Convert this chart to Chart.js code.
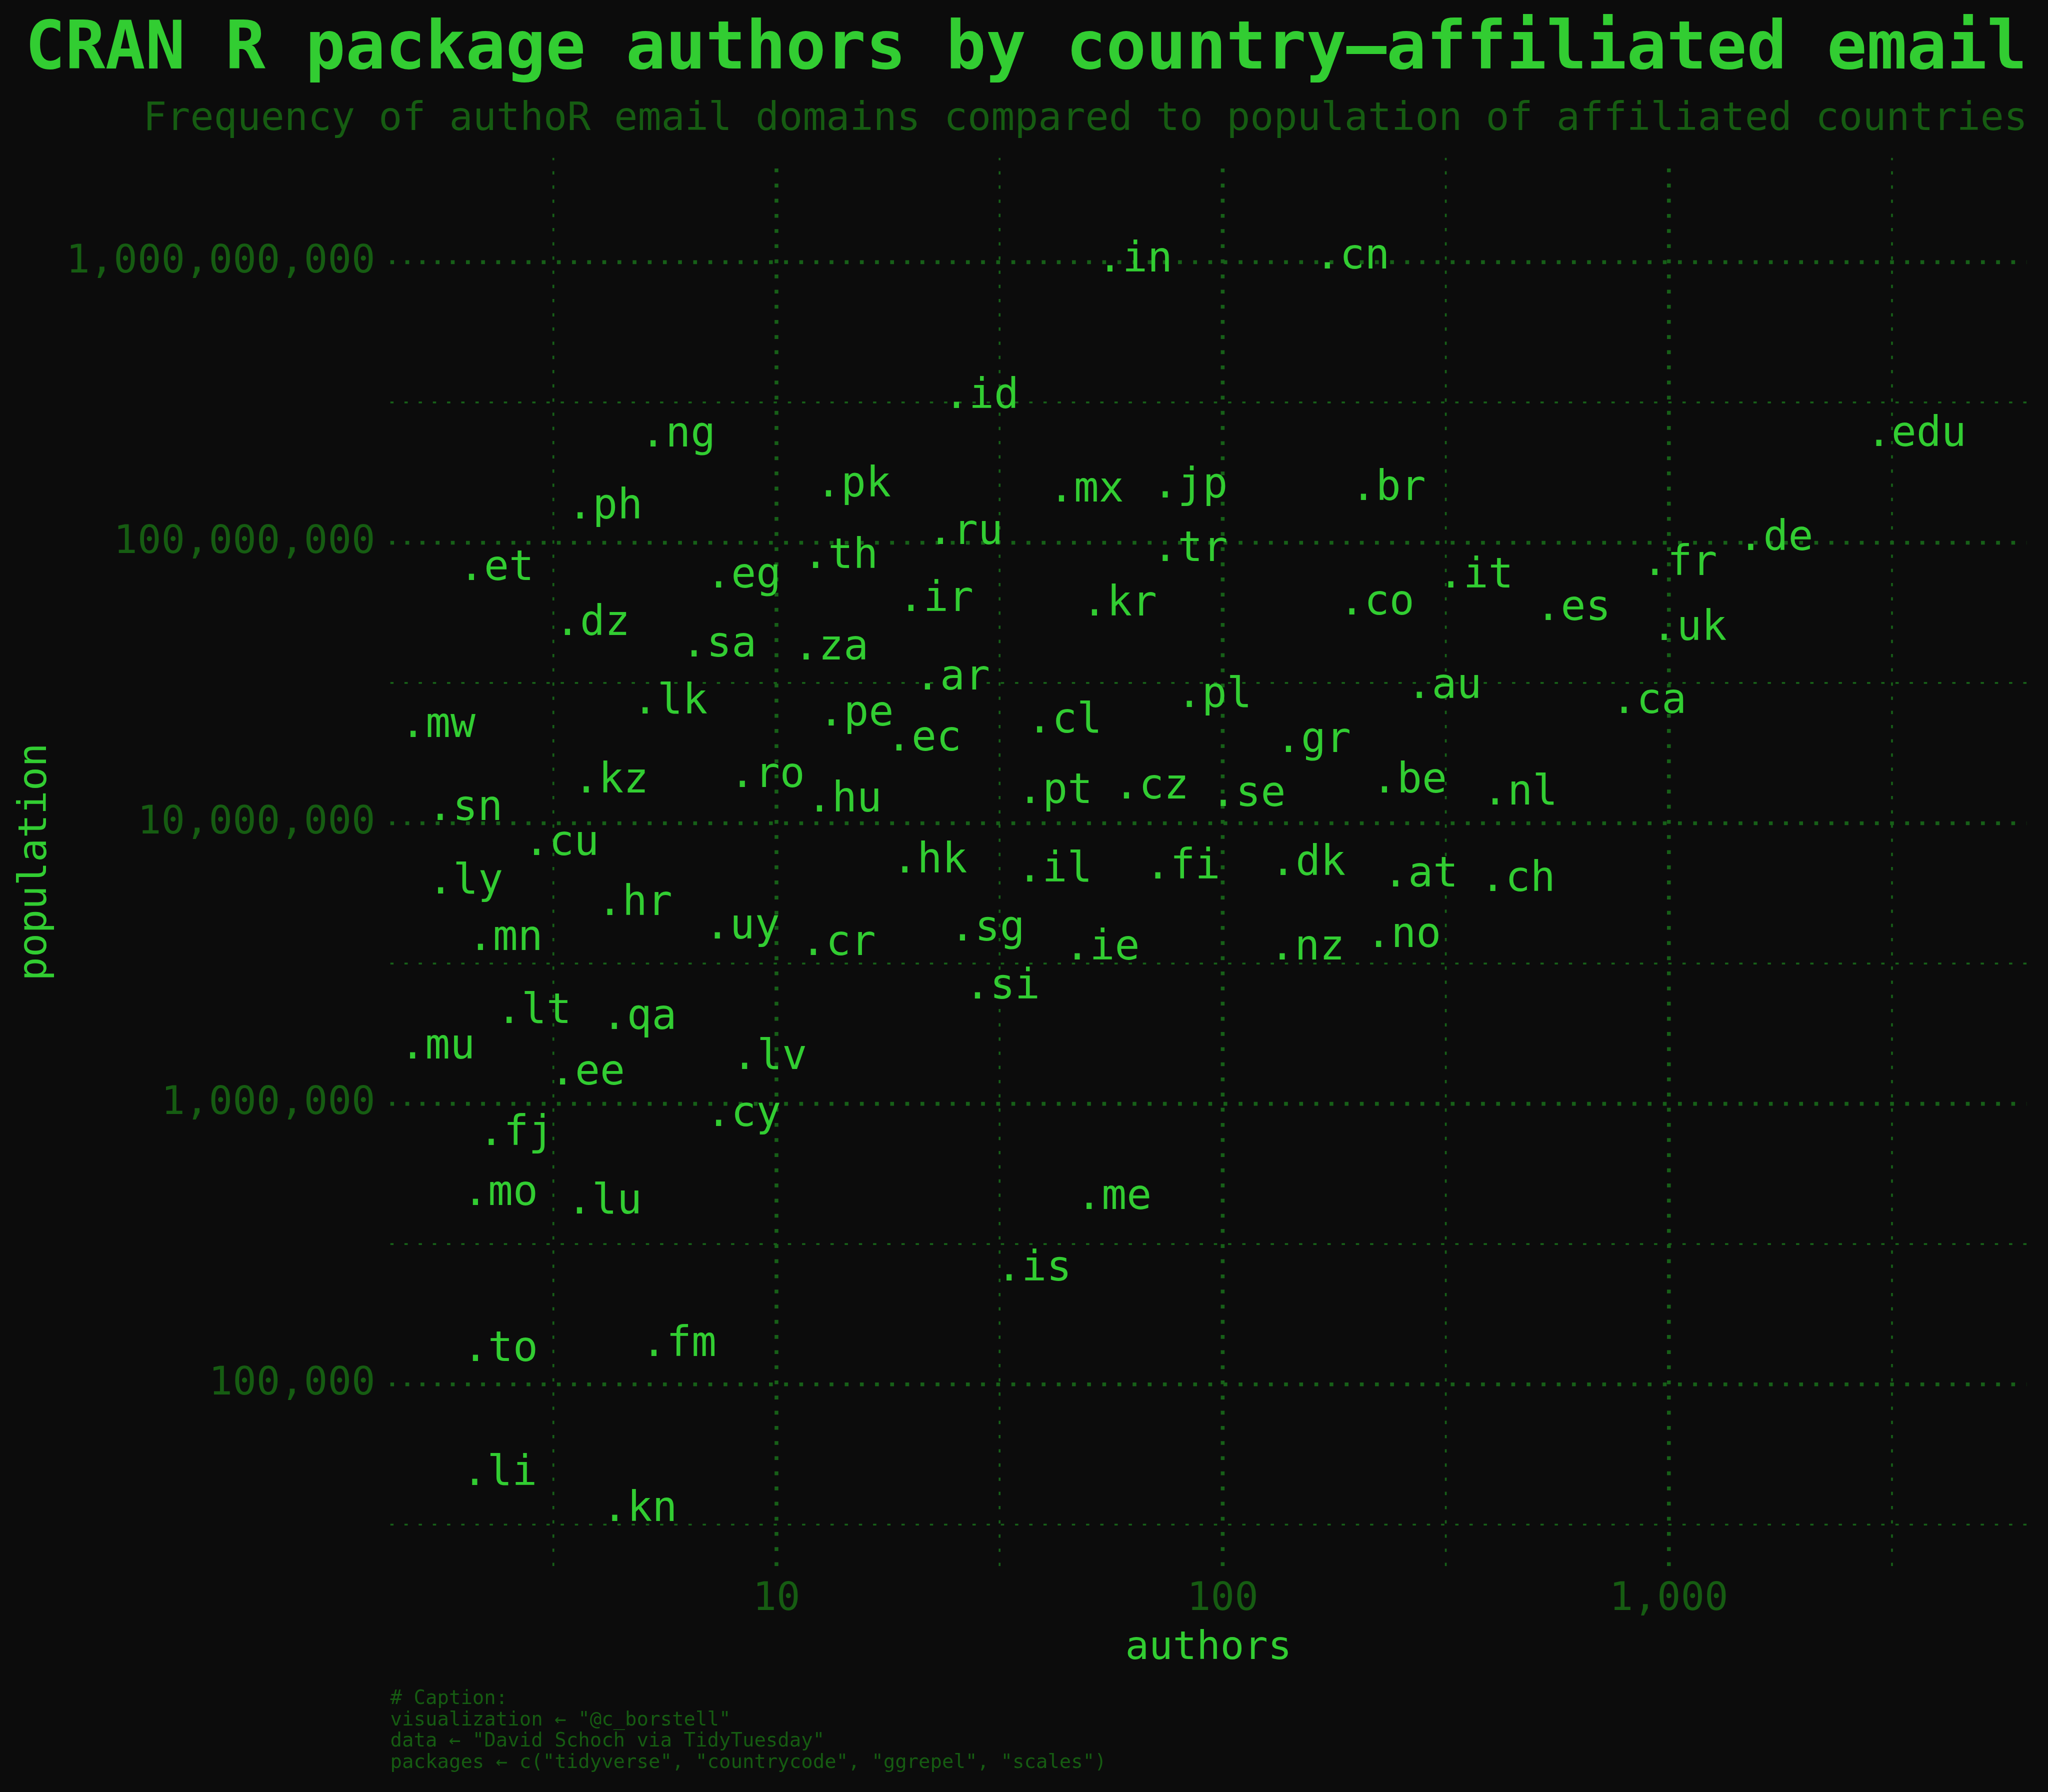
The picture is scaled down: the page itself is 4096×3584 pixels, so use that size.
<!DOCTYPE html>
<html>
<head>
<meta charset="utf-8">
<script src="https://cdn.jsdelivr.net/npm/chart.js@4.4.1/dist/chart.umd.min.js"></script>
<style>
html,body{margin:0;padding:0;background:#0c0c0c;overflow:hidden}
canvas{display:block}
</style>
</head>
<body>
<canvas id="c" width="4096" height="3584" style="width:4096px;height:3584px"></canvas>
<script>
// ---------- data ----------
const domains = ['.in','.cn','.id','.ng','.edu','.pk','.mx','.jp','.br','.ph','.ru','.de','.th','.tr','.fr','.et','.eg','.it','.ir','.kr','.co','.es','.dz','.uk','.sa','.za','.ar','.au','.pl','.lk','.ca','.pe','.mw','.cl','.ec','.gr','.ro','.kz','.be','.pt','.cz','.hu','.se','.nl','.sn','.cu','.hk','.dk','.il','.fi','.at','.ch','.ly','.hr','.uy','.sg','.mn','.cr','.ie','.nz','.no','.si','.lt','.qa','.mu','.lv','.ee','.cy','.fj','.mo','.lu','.me','.is','.to','.fm','.li','.kn'];
const authors = [63.6,195.2,28.8,6.02,3586,14.88,49.5,84.6,235.2,4.13,26.52,1736,13.92,84.6,1058,2.358,8.44,369.4,22.78,58.7,221.6,610.3,3.869,1111,7.439,13.26,24.80,313.8,95.8,5.775,902.8,15.09,1.744,44.22,21.41,159.8,9.540,4.261,262.2,42.12,69.27,14.20,114.1,464.1,2.007,3.300,22.06,155.4,42.03,81.4,277.7,458.8,2.011,4.815,8.386,29.7,2.469,13.76,53.7,154.7,254.4,32.1,2.862,4.927,1.740,9.650,3.772,8.44,2.610,2.407,4.117,57.1,37.8,2.407,6.047,2.397,4.938];
const population = [1.015e9,1.042e9,3.311e8,2.415e8,2.432e8,1.607e8,1.542e8,1.589e8,1.560e8,1.340e8,1.086e8,1.035e8,8.913e7,9.441e7,8.433e7,8.091e7,7.586e7,7.586e7,6.266e7,6.039e7,6.081e7,5.808e7,5.140e7,4.932e7,4.315e7,4.207e7,3.289e7,3.069e7,2.851e7,2.698e7,2.716e7,2.449e7,2.228e7,2.307e7,1.991e7,1.968e7,1.479e7,1.413e7,1.413e7,1.294e7,1.346e7,1.211e7,1.262e7,1.279e7,1.125e7,8.453e6,7.328e6,7.178e6,6.792e6,6.966e6,6.531e6,6.295e6,6.166e6,5.164e6,4.266e6,4.188e6,3.882e6,3.715e6,3.589e6,3.589e6,3.981e6,2.600e6,2.133e6,2.028e6,1.592e6,1.459e6,1.285e6,9.141e5,7.834e5,4.786e5,4.467e5,4.624e5,2.570e5,1.330e5,1.387e5,4.797e4,3.573e4];

const xMajorTicks = [10, 100, 1000];
const xMinorTicks = [3.1623, 31.623, 316.23, 3162.3];
const yMajorTicks = [1e5, 1e6, 1e7, 1e8, 1e9];
const yMinorTicks = [3.1623e4, 3.1623e5, 3.1623e6, 3.1623e7, 3.1623e8];
const xRange = [1.3627, 6339];
const yRange = [22497, 2.3553e9];

const titleText = 'CRAN R package authors by country\u2013affiliated email';
const subtitleText = 'Frequency of authoR email domains compared to population of affiliated countries';
const xTitle = 'authors';
const yTitle = 'population';
const captionLines = [
  '# Caption:',
  'visualization \u2190 "@c_borstell"',
  'data \u2190 "David Schoch via TidyTuesday"',
  'packages \u2190 c("tidyverse", "countrycode", "ggrepel", "scales")'
];

// ---------- style ----------
const FONT = '"DejaVu Sans Mono", "Liberation Mono", monospace';
const BG = '#0c0c0c';
const BRIGHT = '#32cd32';
const DARK = '#165c12';
const GRID = '#176018';
const LABEL_SIZE = 83;

const bgPlugin = {
  id: 'bg',
  beforeDraw(chart) {
    const ctx = chart.ctx;
    ctx.save();
    ctx.fillStyle = BG;
    ctx.fillRect(0, 0, chart.width, chart.height);
    ctx.restore();
  }
};

const gridPlugin = {
  id: 'dottedGrid',
  beforeDatasetsDraw(chart) {
    const {ctx, chartArea: a, scales: {x, y}} = chart;
    ctx.save();
    ctx.beginPath();
    ctx.rect(a.left, a.top, a.right - a.left, a.bottom - a.top);
    ctx.clip();
    ctx.strokeStyle = GRID;
    ctx.lineCap = 'butt';
    const drawSet = (vals, isX, lw, dash) => {
      ctx.lineWidth = lw;
      ctx.setLineDash(dash);
      ctx.lineDashOffset = 0;
      vals.forEach(v => {
        ctx.beginPath();
        if (isX) {
          const px = x.getPixelForValue(v);
          ctx.moveTo(px, a.bottom);
          ctx.lineTo(px, a.top);
        } else {
          const py = y.getPixelForValue(v);
          ctx.moveTo(a.left, py);
          ctx.lineTo(a.right, py);
        }
        ctx.stroke();
      });
    };
    drawSet(yMinorTicks, false, 3.7, [6.6, 21.8]);
    drawSet(xMinorTicks, true, 3.7, [6.6, 21.8]);
    drawSet(yMajorTicks, false, 7.6, [7.6, 22.7]);
    drawSet(xMajorTicks, true, 7.6, [7.6, 22.7]);
    ctx.restore();
  }
};

const labelPlugin = {
  id: 'textLabels',
  afterDatasetsDraw(chart) {
    const {ctx} = chart;
    const meta = chart.getDatasetMeta(0);
    ctx.save();
    ctx.font = LABEL_SIZE + 'px ' + FONT;
    ctx.fillStyle = BRIGHT;
    ctx.textAlign = 'center';
    ctx.textBaseline = 'alphabetic';
    meta.data.forEach((pt, i) => {
      ctx.fillText(domains[i], pt.x, pt.y + 0.273 * LABEL_SIZE);
    });
    ctx.restore();
  }
};

const textPlugin = {
  id: 'titles',
  afterDraw(chart) {
    const ctx = chart.ctx;
    ctx.save();
    ctx.textBaseline = 'alphabetic';
    ctx.fillStyle = BRIGHT;
    ctx.textAlign = 'right';
    ctx.font = 'bold 133px ' + FONT;
    ctx.fillText(titleText, 4054, 136.5);
    ctx.fillStyle = DARK;
    ctx.font = '78.25px ' + FONT;
    ctx.fillText(subtitleText, 4055, 260);
    ctx.textAlign = 'left';
    ctx.font = '39px ' + FONT;
    const base = [3408.2, 3451.1, 3493.3, 3535.6];
    captionLines.forEach((l, i) => ctx.fillText(l, 780.5, base[i]));
    ctx.restore();
  }
};

const fmt = v => Number(v).toLocaleString('en-US');

new Chart(document.getElementById('c'), {
  type: 'scatter',
  data: {
    datasets: [{
      label: 'domains',
      data: authors.map((a, i) => ({x: a, y: population[i]})),
      pointRadius: 0,
      pointHoverRadius: 0,
      showLine: false
    }]
  },
  options: {
    responsive: false,
    animation: false,
    devicePixelRatio: 1,
    events: [],
    layout: {padding: {left: 0, right: 42.5, top: 315.6, bottom: 239.5}},
    plugins: {legend: {display: false}, title: {display: false}, tooltip: {enabled: false}},
    scales: {
      x: {
        type: 'logarithmic',
        position: 'bottom',
        min: xRange[0], max: xRange[1],
        grid: {display: false, drawTicks: false},
        border: {display: false},
        afterBuildTicks: s => { s.ticks = xMajorTicks.map(v => ({value: v})); },
        afterFit: s => { s.height = 212.3; },
        ticks: {
          autoSkip: false, maxRotation: 0, minRotation: 0,
          padding: 19.5, color: DARK,
          font: {family: FONT, size: 79},
          callback: v => fmt(v)
        },
        title: {display: true, text: xTitle, color: BRIGHT, font: {family: FONT, size: 79}, padding: {top: 0, bottom: 0}}
      },
      y: {
        type: 'logarithmic',
        position: 'left',
        min: yRange[0], max: yRange[1],
        grid: {display: false, drawTicks: false},
        border: {display: false},
        afterBuildTicks: s => { s.ticks = yMajorTicks.map(v => ({value: v})); },
        afterFit: s => { s.width = 780.5; },
        ticks: {
          autoSkip: false, padding: 30, color: DARK,
          font: {family: FONT, size: 79},
          callback: v => fmt(v)
        },
        title: {display: true, text: yTitle, color: BRIGHT, font: {family: FONT, size: 79}, padding: {top: 24.3, bottom: 0}}
      }
    }
  },
  plugins: [bgPlugin, gridPlugin, labelPlugin, textPlugin]
});
</script>
</body>
</html>
